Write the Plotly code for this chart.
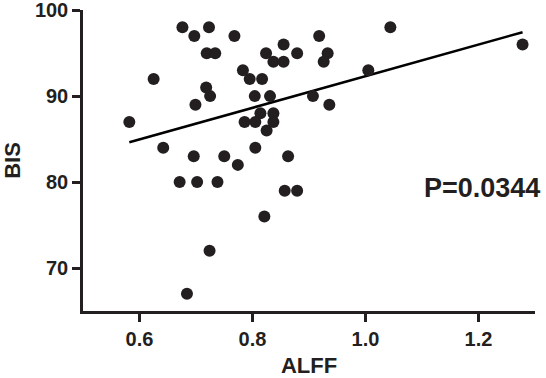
import numpy as np
import plotly.graph_objects as go

alff = [0.582, 0.625, 0.642, 0.676, 0.697, 0.723, 0.719, 0.734, 0.768, 0.718,
        0.725, 0.699, 0.696, 0.750, 0.774, 0.671, 0.702, 0.738, 0.724, 0.684,
        0.783, 0.795, 0.817, 0.804, 0.831, 0.786, 0.805, 0.814, 0.837, 0.837,
        0.825, 0.805, 0.824, 0.837, 0.855, 0.855, 0.879, 0.933, 0.926, 0.918,
        1.044, 1.278, 1.005, 0.907, 0.936, 0.863, 0.857, 0.879, 0.821]
bis = [87, 92, 84, 98, 97, 98, 95, 95, 97, 91,
       90, 89, 83, 83, 82, 80, 80, 80, 72, 67,
       93, 92, 92, 90, 90, 87, 87, 88, 88, 87,
       86, 84, 95, 94, 94, 96, 95, 95, 94, 97,
       98, 96, 93, 90, 89, 83, 79, 79, 76]

x_ticks = [0.6, 0.8, 1.0, 1.2]
y_ticks = [70, 80, 90, 100]
p_label = "P=0.0344"

slope, intercept = np.polyfit(alff, bis, 1)
fit_x = [min(alff), max(alff)]
fit_y = [slope * v + intercept for v in fit_x]

FONT = "Liberation Sans, Arial, sans-serif"
ink = "#231f20"

fig = go.Figure()
fig.add_trace(go.Scatter(x=fit_x, y=fit_y, mode="lines",
                         line=dict(color="black", width=2.5),
                         showlegend=False, hoverinfo="skip"))
fig.add_trace(go.Scatter(x=alff, y=bis, mode="markers",
                         marker=dict(size=12, color=ink, line=dict(width=0)),
                         showlegend=False))

fig.add_annotation(x=1.016, y=0.41, xref="paper", yref="paper", text=p_label,
                   showarrow=False, xanchor="right", yanchor="middle",
                   font=dict(family=FONT, size=27, color=ink, weight="bold"))

axis_common = dict(showgrid=False, zeroline=False, showline=True,
                   linecolor=ink, linewidth=2.5, ticks="outside",
                   ticklen=8, tickwidth=2.5, tickcolor=ink, automargin=False,
                   ticklabeloverflow="allow",
                   tickfont=dict(family=FONT, size=20, color=ink, weight="bold"),
                   title_font=dict(family=FONT, size=22, color=ink, weight="bold"))

fig.update_xaxes(range=[0.5, 1.3], tickvals=x_ticks,
                 ticktext=[f"{v:.1f}" for v in x_ticks],
                 title_text="ALFF", title_standoff=10, **axis_common)
fig.update_yaxes(range=[65, 100.02], tickvals=y_ticks,
                 ticktext=[str(v) for v in y_ticks],
                 title_text="BIS", title_standoff=16, **axis_common)

fig.update_layout(width=546, height=378, plot_bgcolor="white",
                  paper_bgcolor="white",
                  margin=dict(l=83, r=11, t=10, b=67))

fig.write_html("out.html", config={"displayModeBar": False},
               post_script="document.body.style.margin='0';document.body.style.overflow='hidden';")
